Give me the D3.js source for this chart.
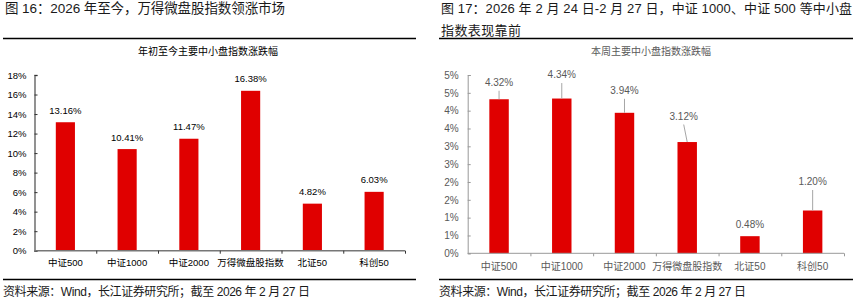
<!DOCTYPE html>
<html>
<head>
<meta charset="utf-8">
<script src="https://cdn.jsdelivr.net/npm/d3@7"></script>
<style>
  html, body { margin: 0; padding: 0; background: #fff; }
  svg { display: block; }
  text { font-family: "Liberation Sans", "Noto Sans CJK SC", sans-serif; }
</style>
</head>
<body>
<svg width="866" height="302"></svg>
<script>
// chart 1 - year to date
const cats = ['中证500', '中证1000', '中证2000', '万得微盘股指数', '北证50', '科创50'];
const ytdValues = [13.16, 10.41, 11.47, 16.38, 4.82, 6.03];
const ytdTicks = [0, 2, 4, 6, 8, 10, 12, 14, 16, 18];

// chart 2 - this week
const weekValues = [4.32, 4.34, 3.94, 3.12, 0.48, 1.20];
const weekTicks = [0, 0.5, 1, 1.5, 2, 2.5, 3, 3.5, 4, 4.5, 5];
const weekTickLabels = ['0%', '1%', '1%', '2%', '2%', '3%', '3%', '4%', '4%', '5%', '5%'];
// label lift above bar top (px) and x nudge, as in the original
const weekLabelLift = [16, 23, 21.5, 25, 11, 28];
const weekLabelShift = [0, 0, 0, -3.5, 0, 0];

const svg = d3.select('svg');
const red = '#e00000';

function header(x, lines, y0, widths, size) {
    lines.forEach((t, i) => {
        const tx = svg.append('text')
            .attr('x', x).attr('y', y0 + i * 21.5)
            .attr('font-size', size).attr('fill', '#1a1a1a')
            .attr('dominant-baseline', 'middle')
            .text(t);
        if (widths[i]) tx.attr('textLength', widths[i]).attr('lengthAdjust', 'spacing');
    });
}

function rule(x1, x2, y) {
    svg.append('line')
        .attr('x1', x1).attr('x2', x2).attr('y1', y).attr('y2', y)
        .attr('stroke', '#000').attr('stroke-width', 1.3);
}

function footer(x) {
    svg.append('text').attr('x', x).attr('y', 293).attr('font-size', 12).attr('fill', '#1a1a1a')
        .attr('dominant-baseline', 'middle')
        .attr('textLength', 307).attr('lengthAdjust', 'spacing')
        .text('资料来源：Wind，长江证券研究所；截至 2026 年 2 月 27 日');
}

// ---------- headers / footers ----------
header(5, ['图 16：2026 年至今，万得微盘股指数领涨市场'], 9.5, [280], 13.5);
header(441, ['图 17：2026 年 2 月 24 日-2 月 27 日，中证 1000、中证 500 等中小盘', '指数表现靠前'], 10, [411, 80], 13);
rule(3, 416, 38.5);
rule(439, 853, 38.5);
rule(3, 416, 279.5);
rule(439, 853, 279.5);
footer(3);
footer(439);

// ---------- chart 1 ----------
{
    const left = 34.5, right = 405, top = 75, bottom = 250.7;
    const x = d3.scaleBand().domain(cats).range([left, right]).paddingInner(0.69).paddingOuter(0.345);
    const xb = d3.scaleLinear().domain([0, cats.length]).range([left, right]);
    const y = d3.scaleLinear().domain([0, 18]).range([bottom, top]);
    const g = svg.append('g');

    g.append('text').attr('x', 208).attr('y', 52).attr('text-anchor', 'middle')
        .attr('dominant-baseline', 'middle').attr('font-size', 10).attr('fill', '#000')
        .attr('font-family', 'Noto Sans CJK SC').text('年初至今主要中小盘指数涨跌幅');

    const ya = g.append('g').attr('transform', `translate(${left},0)`)
        .call(d3.axisLeft(y).tickValues(ytdTicks).tickSize(-3).tickPadding(8).tickFormat(d => d + '%'));
    ya.select('.domain').attr('stroke', '#777').attr('stroke-width', 1.6);
    ya.selectAll('line').attr('stroke', '#333');
    ya.selectAll('text').attr('font-size', 9.5).attr('fill', '#000');

    g.selectAll('rect.bar').data(ytdValues).join('rect').attr('class', 'bar')
        .attr('x', (d, i) => x(cats[i])).attr('width', x.bandwidth())
        .attr('y', d => y(d)).attr('height', d => bottom - y(d))
        .attr('fill', red);

    g.selectAll('text.val').data(ytdValues).join('text').attr('class', 'val')
        .attr('x', (d, i) => x(cats[i]) + x.bandwidth() / 2)
        .attr('y', d => y(d) - 11).attr('text-anchor', 'middle').attr('dominant-baseline', 'middle')
        .attr('font-size', 9.5).attr('fill', '#000')
        .text(d => d.toFixed(2) + '%');

    const xa = g.append('g').attr('transform', `translate(0,${bottom})`)
        .call(d3.axisBottom(xb).tickValues(d3.range(1, cats.length + 1)).tickSize(3).tickFormat(''));
    xa.select('.domain').attr('stroke', '#777').attr('stroke-width', 1.6).attr('d', `M${left},0H${right}`);
    xa.selectAll('line').attr('stroke', '#333');

    g.selectAll('text.cat').data(cats).join('text').attr('class', 'cat')
        .attr('x', d => x(d) + x.bandwidth() / 2).attr('y', 263.5)
        .attr('text-anchor', 'middle').attr('dominant-baseline', 'middle')
        .attr('font-size', 9.5).attr('fill', '#000').attr('font-family', 'Noto Sans CJK SC')
        .text(d => d);
}

// ---------- chart 2 ----------
{
    const left = 467.7, right = 844, top = 75, bottom = 253.3;
    const x = d3.scaleBand().domain(cats).range([left, right]).paddingInner(0.69).paddingOuter(0.345);
    const xb = d3.scaleLinear().domain([0, cats.length]).range([left, right]);
    const y = d3.scaleLinear().domain([0, 5]).range([bottom, top]);
    const g = svg.append('g');
    const grey = '#595959';

    g.append('text').attr('x', 651).attr('y', 52).attr('text-anchor', 'middle')
        .attr('dominant-baseline', 'middle').attr('font-size', 10).attr('fill', grey)
        .attr('font-family', 'Noto Sans CJK SC').text('本周主要中小盘指数涨跌幅');

    const ya = g.append('g').attr('transform', `translate(${left},0)`)
        .call(d3.axisLeft(y).tickValues(weekTicks).tickSize(-3).tickPadding(9)
            .tickFormat((d, i) => weekTickLabels[i]));
    ya.select('.domain').attr('stroke', '#999').attr('stroke-width', 1);
    ya.selectAll('line').attr('stroke', '#999');
    ya.selectAll('text').attr('font-size', 10).attr('fill', grey);

    g.selectAll('rect.bar').data(weekValues).join('rect').attr('class', 'bar')
        .attr('x', (d, i) => x(cats[i])).attr('width', x.bandwidth())
        .attr('y', d => y(d)).attr('height', d => bottom - y(d))
        .attr('fill', red);

    const cx = i => x(cats[i]) + x.bandwidth() / 2;
    const leadIdx = d3.range(weekValues.length).filter(i => weekLabelLift[i] > 12);
    g.selectAll('line.lead').data(leadIdx)
        .join('line').attr('class', 'lead')
        .attr('x1', i => cx(i)).attr('y1', i => y(weekValues[i]))
        .attr('x2', i => cx(i) + weekLabelShift[i]).attr('y2', i => y(weekValues[i]) - weekLabelLift[i] + 7.5)
        .attr('stroke', '#a6a6a6').attr('stroke-width', 1);

    g.selectAll('text.val').data(weekValues).join('text').attr('class', 'val')
        .attr('x', (d, i) => cx(i) + weekLabelShift[i])
        .attr('y', (d, i) => y(d) - weekLabelLift[i]).attr('text-anchor', 'middle').attr('dominant-baseline', 'middle')
        .attr('font-size', 10).attr('fill', grey)
        .text(d => d.toFixed(2) + '%');

    const xa = g.append('g').attr('transform', `translate(0,${bottom})`)
        .call(d3.axisBottom(xb).tickValues(d3.range(1, cats.length + 1)).tickSize(3).tickFormat(''));
    xa.select('.domain').attr('stroke', '#999').attr('stroke-width', 1).attr('d', `M${left},0H${right}`);
    xa.selectAll('line').attr('stroke', '#999');

    g.selectAll('text.cat').data(cats).join('text').attr('class', 'cat')
        .attr('x', d => x(d) + x.bandwidth() / 2).attr('y', 267.5)
        .attr('text-anchor', 'middle').attr('dominant-baseline', 'middle')
        .attr('font-size', 10).attr('fill', grey).attr('font-family', 'Noto Sans CJK SC')
        .text(d => d);
}
</script>
</body>
</html>
